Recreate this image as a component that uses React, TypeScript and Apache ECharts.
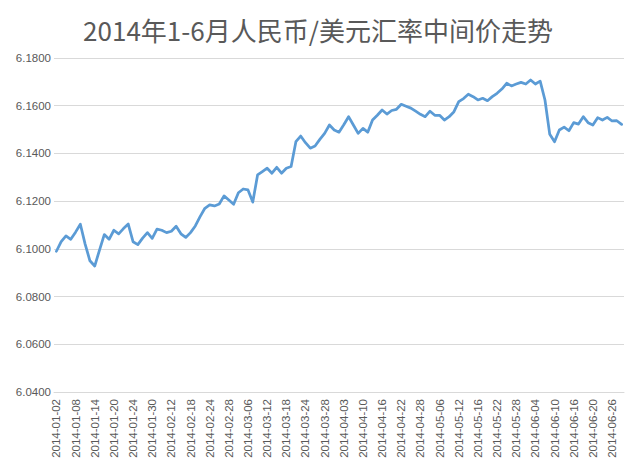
import React, { useEffect, useRef } from "react";
import * as echarts from "echarts";

const chartTitle = "2014年1-6月人民币/美元汇率中间价走势";

const dates: string[] = [
  "2014-01-02","2014-01-03","2014-01-06","2014-01-07","2014-01-08","2014-01-09","2014-01-10","2014-01-13","2014-01-14","2014-01-15",
  "2014-01-16","2014-01-17","2014-01-20","2014-01-21","2014-01-22","2014-01-23","2014-01-24","2014-01-27","2014-01-28","2014-01-29",
  "2014-01-30","2014-02-07","2014-02-10","2014-02-11","2014-02-12","2014-02-13","2014-02-14","2014-02-17","2014-02-18","2014-02-19",
  "2014-02-20","2014-02-21","2014-02-24","2014-02-25","2014-02-26","2014-02-27","2014-02-28","2014-03-03","2014-03-04","2014-03-05",
  "2014-03-06","2014-03-07","2014-03-10","2014-03-11","2014-03-12","2014-03-13","2014-03-14","2014-03-17","2014-03-18","2014-03-19",
  "2014-03-20","2014-03-21","2014-03-24","2014-03-25","2014-03-26","2014-03-27","2014-03-28","2014-03-31","2014-04-01","2014-04-02",
  "2014-04-03","2014-04-04","2014-04-08","2014-04-09","2014-04-10","2014-04-11","2014-04-14","2014-04-15","2014-04-16","2014-04-17",
  "2014-04-18","2014-04-21","2014-04-22","2014-04-23","2014-04-24","2014-04-25","2014-04-28","2014-04-29","2014-04-30","2014-05-05",
  "2014-05-06","2014-05-07","2014-05-08","2014-05-09","2014-05-12","2014-05-13","2014-05-14","2014-05-15","2014-05-16","2014-05-19",
  "2014-05-20","2014-05-21","2014-05-22","2014-05-23","2014-05-26","2014-05-27","2014-05-28","2014-05-29","2014-05-30","2014-06-03",
  "2014-06-04","2014-06-05","2014-06-06","2014-06-09","2014-06-10","2014-06-11","2014-06-12","2014-06-13","2014-06-16","2014-06-17",
  "2014-06-18","2014-06-19","2014-06-20","2014-06-23","2014-06-24","2014-06-25","2014-06-26","2014-06-27","2014-06-30"
];

const rates: number[] = [
  6.0990, 6.1030, 6.1054, 6.1040, 6.1070, 6.1103, 6.1020, 6.0950, 6.0928, 6.0995,
  6.1060, 6.1040, 6.1078, 6.1063, 6.1085, 6.1104, 6.1030, 6.1018, 6.1045, 6.1068,
  6.1044, 6.1083, 6.1078, 6.1068, 6.1074, 6.1095, 6.1063, 6.1048, 6.1068, 6.1096,
  6.1135, 6.1170, 6.1184, 6.1180, 6.1188, 6.1222, 6.1205, 6.1187, 6.1235, 6.1251,
  6.1247, 6.1196, 6.1310, 6.1324, 6.1338, 6.1317, 6.1342, 6.1317, 6.1338, 6.1345,
  6.1449, 6.1473, 6.1445, 6.1422, 6.1431, 6.1459, 6.1484, 6.1519, 6.1498, 6.1489,
  6.1520, 6.1554, 6.1519, 6.1484, 6.1505, 6.1489, 6.1540, 6.1560, 6.1582, 6.1565,
  6.1580, 6.1585, 6.1606, 6.1598, 6.1590, 6.1577, 6.1564, 6.1554, 6.1577, 6.1560,
  6.1560, 6.1540, 6.1554, 6.1575, 6.1617, 6.1630, 6.1648, 6.1638, 6.1624, 6.1631,
  6.1621, 6.1638, 6.1652, 6.1670, 6.1694, 6.1683, 6.1691, 6.1698, 6.1691, 6.1708,
  6.1691, 6.1703, 6.1624, 6.1480, 6.1449, 6.1498, 6.1510, 6.1495, 6.1529, 6.1523,
  6.1554, 6.1529, 6.1519, 6.1550, 6.1540, 6.1551, 6.1536, 6.1537, 6.1522
];

const yMin = 6.04;
const yMax = 6.18;
const yStep = 0.02;

export default function App() {
  const ref = useRef<HTMLDivElement>(null);
  useEffect(() => {
    if (!ref.current) return;
    const chart = echarts.init(ref.current, null, { renderer: "svg" });
    chart.setOption({
      animation: false,
      backgroundColor: "#ffffff",
      title: {
        text: chartTitle,
        left: "center",
        top: 11,
        textStyle: {
          fontFamily: "Noto Sans CJK SC",
          fontSize: 26,
          fontWeight: "normal",
          color: "#595959",
        },
      },
      grid: { left: 54, right: 12, top: 58, bottom: 75, containLabel: false },
      xAxis: {
        type: "category",
        data: dates,
        boundaryGap: true,
        axisLine: { show: true, lineStyle: { color: "#d9d9d9", width: 1 } },
        axisTick: { show: false },
        axisLabel: {
          interval: 3,
          rotate: 90,
          margin: 7,
          fontFamily: "Liberation Sans",
          fontSize: 11.5,
          color: "#595959",
        },
        splitLine: { show: false },
      },
      yAxis: {
        type: "value",
        min: yMin,
        max: yMax,
        interval: yStep,
        axisLine: { show: false },
        axisTick: { show: false },
        axisLabel: {
          formatter: (v: number) => v.toFixed(4),
          fontFamily: "Liberation Sans",
          fontSize: 11.5,
          color: "#595959",
          margin: 3,
        },
        splitLine: { show: true, lineStyle: { color: "#d9d9d9", width: 1 } },
      },
      series: [
        {
          type: "line",
          data: rates,
          showSymbol: false,
          symbol: "none",
          lineStyle: { color: "#5b9bd5", width: 2.75, join: "round", cap: "round" },
        },
      ],
    });
    return () => chart.dispose();
  }, []);
  return (
    <div
      ref={ref}
      style={{ position: "fixed", left: 0, top: 0, width: 636, height: 467, background: "#fff" }}
    />
  );
}
